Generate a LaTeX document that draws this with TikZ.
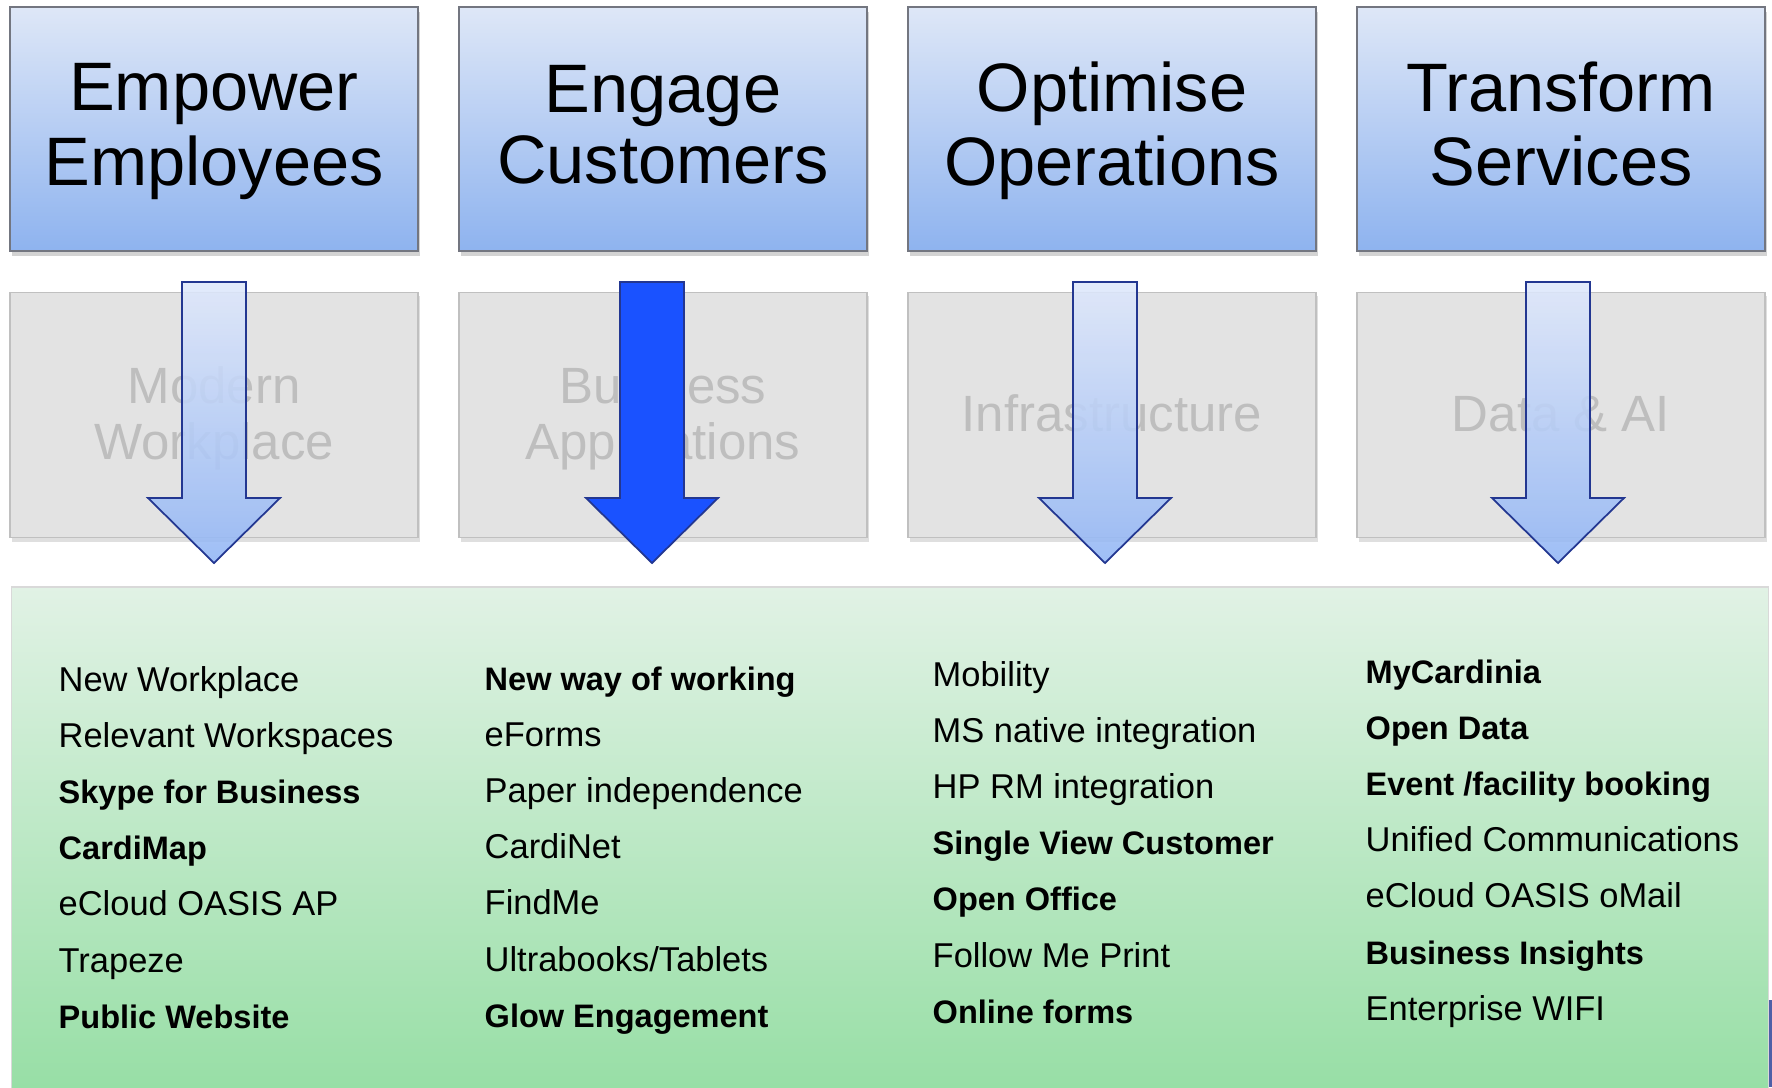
\documentclass[tikz,border=0pt]{standalone}
\usepackage{fontspec}
\setmainfont{Liberation Sans}
\usetikzlibrary{shadows}

\definecolor{headtop}{RGB}{222,231,247}
\definecolor{headbot}{RGB}{142,179,239}
\definecolor{headline}{RGB}{115,118,128}
\definecolor{layerfill}{RGB}{227,227,227}
\definecolor{layerline}{RGB}{192,192,192}
\definecolor{layertext}{RGB}{190,190,190}
\definecolor{arrtop}{RGB}{223,232,251}
\definecolor{arrbot}{RGB}{145,181,245}
\definecolor{arrline}{RGB}{35,55,145}
\definecolor{arrhot}{RGB}{26,82,255}
\definecolor{listtop}{RGB}{225,242,229}
\definecolor{listbot}{RGB}{146,221,161}

\newcommand{\bfitem}[1]{{\fontsize{9.25}{11}\selectfont\bfseries #1}}

\begin{document}
\begin{tikzpicture}
[x=0.01cm, y=-0.01cm, line width=0.4pt,
pillar/.style={rectangle, draw=headline, top color=headtop, bottom color=headbot, minimum width=4.08cm, minimum height=2.44cm, drop shadow={opacity=0.35, shadow xshift=0.2mm, shadow yshift=-0.5mm}},
pillartext/.style={align=center, inner sep=0pt, font=\fontsize{19.5}{20}\selectfont},
layer/.style={rectangle, draw=layerline, fill=layerfill, minimum width=4.08cm, minimum height=2.45cm, drop shadow={opacity=0.25, shadow xshift=0.2mm, shadow yshift=-0.4mm}},
layertext/.style={align=center, inner sep=0pt, text=layertext, font=\fontsize{14.5}{15}\selectfont},
panel/.style={rectangle, draw=black!15, top color=listtop, bottom color=listbot, minimum width=17.56cm, minimum height=5.4cm},
flow/.style={draw=arrline, line width=0.5pt, top color=arrtop, bottom color=arrbot, fill opacity=0.88},
hot/.style={draw=arrline, line width=0.5pt, fill=arrhot},
item/.style={anchor=base west, inner sep=0pt, font=\fontsize{9.8}{11}\selectfont}]

\useasboundingbox (0,0) rectangle (1772,1087);

% goals
\node[pillar] (emp) at (214,129) {};
\node[pillar] (eng) at (663,129) {};
\node[pillar] (opt) at (1112,129) {};
\node[pillar] (trn) at (1561,129) {};
\node[pillartext] (empt) at (214,134) {\strut Empower\\\strut Employees};
\node[pillartext] (engt) at (663,134) {\strut Engage\\\strut Customers};
\node[pillartext] (optt) at (1112,134) {\strut Optimise\\\strut Operations};
\node[pillartext] (trnt) at (1561,134) {\strut Transform\\\strut Services};

% layers
\node[layer] (mwp) at (214,415) {};
\node[layer] (bap) at (663,415) {};
\node[layer] (inf) at (1112,415) {};
\node[layer] (dai) at (1561,415) {};
\node[layertext] (mwpt) at (214,421) {\strut Modern\\\strut Workplace};
\node[layertext] (bapt) at (663,421) {\strut Business\\\strut Applications};
\node[layertext] (inft) at (1112,421) {\strut Infrastructure};
\node[layertext] (dait) at (1561,421) {\strut Data \& AI};

\node[panel] (list) at (890,857) {};
\fill[arrline!80] (1769,1000) rectangle (1772,1087);

\foreach \x/\s in {214/flow, 652/hot, 1105/flow, 1558/flow} {
  \draw[\s] (\x-32,282) -- (\x+32,282) -- (\x+32,498) -- (\x+66,498) -- (\x,563) -- (\x-66,498) -- (\x-32,498) -- cycle;
}

\foreach \t [count=\i from 0] in {New Workplace, Relevant Workspaces, \bfitem{Skype for Business}, \bfitem{CardiMap}, eCloud OASIS AP, Trapeze, \bfitem{Public Website}}
  \node[item] (wp\i) at (58,691+56.2*\i) {\t};

\foreach \t [count=\i from 0] in {\bfitem{New way of working}, eForms, Paper independence, CardiNet, FindMe, Ultrabooks/Tablets, \bfitem{Glow Engagement}}
  \node[item] (ca\i) at (484,690+56.2*\i) {\t};

\foreach \t [count=\i from 0] in {Mobility, MS native integration, HP RM integration, \bfitem{Single View Customer}, \bfitem{Open Office}, Follow Me Print, \bfitem{Online forms}}
  \node[item] (op\i) at (932,686+56.2*\i) {\t};

\foreach \t [count=\i from 0] in {\bfitem{MyCardinia}, \bfitem{Open Data}, \bfitem{Event /facility booking}, Unified Communications, eCloud OASIS oMail, \bfitem{Business Insights}, Enterprise WIFI}
  \node[item] (ts\i) at (1365,683+56.2*\i) {\t};
\end{tikzpicture}
\end{document}
